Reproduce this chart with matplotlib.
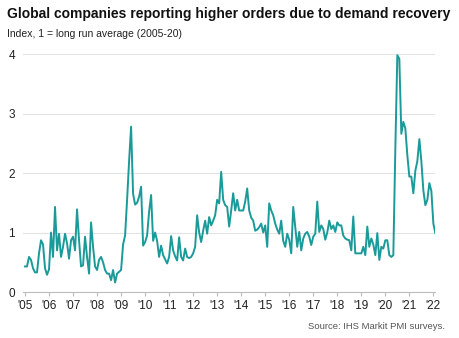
import numpy as np
import matplotlib
matplotlib.use("Agg")
import matplotlib.pyplot as plt

plt.rcParams['font.family'] = ['Liberation Sans', 'DejaVu Sans']

# monthly index, Jan 2005 - Feb 2022 (1 = long run average 2005-20)
start_year = 2005
orders_index = [
    0.43, 0.43, 0.59, 0.54, 0.40, 0.33, 0.33, 0.65, 0.87, 0.80, 0.40, 0.29,  # 2005
    0.38, 1.00, 0.59, 1.43, 0.70, 0.98, 0.59, 0.76, 0.98, 0.82, 0.56, 0.87,  # 2006
    0.93, 0.70, 1.39, 0.87, 0.43, 0.45, 0.93, 0.59, 0.31, 1.17, 0.76, 0.43,  # 2007
    0.37, 0.54, 0.59, 0.50, 0.37, 0.31, 0.31, 0.20, 0.37, 0.16, 0.31, 0.34,  # 2008
    0.37, 0.80, 0.95, 1.55, 2.20, 2.78, 1.65, 1.47, 1.50, 1.60, 1.77, 0.78,  # 2009
    0.84, 0.95, 1.35, 1.63, 0.86, 1.00, 0.86, 0.59, 0.78, 0.62, 0.55, 0.48,  # 2010
    0.59, 0.94, 0.70, 0.60, 0.53, 0.92, 0.59, 0.53, 0.73, 0.59, 0.57, 0.59,  # 2011
    0.65, 0.76, 1.29, 1.00, 0.84, 1.03, 1.20, 0.98, 1.26, 1.12, 1.20, 1.29,  # 2012
    1.55, 1.49, 2.02, 1.55, 1.46, 1.43, 1.10, 1.37, 1.66, 1.37, 1.55, 1.37,  # 2013
    1.37, 1.37, 1.52, 1.74, 1.37, 1.25, 1.20, 1.03, 1.05, 1.09, 1.15, 1.00,  # 2014
    1.12, 0.76, 1.49, 1.37, 1.29, 1.15, 1.05, 0.98, 1.20, 0.86, 0.76, 0.98,  # 2015
    0.88, 0.65, 1.43, 1.09, 0.76, 1.01, 0.70, 0.90, 0.98, 1.01, 0.93, 0.79,  # 2016
    0.93, 0.98, 1.52, 1.01, 1.12, 1.06, 0.88, 1.00, 1.20, 1.06, 1.12, 1.01,  # 2017
    1.17, 1.12, 1.12, 0.95, 0.90, 0.88, 0.87, 0.70, 1.27, 0.65, 0.65, 0.65,  # 2018
    0.65, 0.76, 0.62, 1.10, 0.76, 0.90, 0.80, 0.62, 0.99, 0.54, 0.76, 0.73,  # 2019
    0.87, 0.87, 0.62, 0.59, 0.62, 2.40, 3.98, 3.92, 2.66, 2.86, 2.75, 2.30,  # 2020
    1.94, 1.94, 1.66, 2.04, 2.20, 2.57, 2.20, 1.71, 1.46, 1.55, 1.83, 1.70,  # 2021
    1.15, 0.99,                                                              # 2022
]
year_ticks = list(range(2005, 2023))
year_labels = ["'%02d" % (y % 100) for y in year_ticks]
y_ticks = [0, 1, 2, 3, 4]

line_color = '#1a9a98'
text_color = '#222222'

t = start_year + np.arange(len(orders_index)) / 12.0

fig = plt.figure(figsize=(4.59, 3.38), dpi=100)
ax = fig.add_axes([0.0508, 0.136, 0.897, 0.7217])

ax.plot(t, orders_index, color=line_color, lw=1.4, solid_joinstyle='round')

ax.set_xlim(2004.93, 2022.07)
ax.set_ylim(0, 4.1)
ax.set_xticks(year_ticks)
ax.set_xticklabels(year_labels)
ax.set_yticks(y_ticks)

for s in ['top', 'right', 'left']:
    ax.spines[s].set_visible(False)
ax.spines['bottom'].set_color('#bdbdbd')
ax.spines['bottom'].set_linewidth(0.8)

ax.grid(axis='y', color='#e3e3e3', lw=0.8)
ax.set_axisbelow(True)
ax.tick_params(axis='x', length=3, width=0.8, color='#bdbdbd',
               labelsize=8.5, labelcolor=text_color, pad=3)
ax.tick_params(axis='y', length=0, labelsize=8.5, labelcolor=text_color, pad=6)

fig.text(0.015, 0.958, 'Global companies reporting higher orders due to demand recovery',
         fontsize=10, fontweight='bold', color='#111111', va='center', ha='left')
fig.text(0.015, 0.9, 'Index, 1 = long run average (2005-20)',
         fontsize=7.5, color=text_color, va='center', ha='left')
fig.text(0.97, 0.033, 'Source: IHS Markit PMI surveys.',
         fontsize=6.8, color='#555555', va='center', ha='right')

fig.savefig('out.png', dpi=100)
